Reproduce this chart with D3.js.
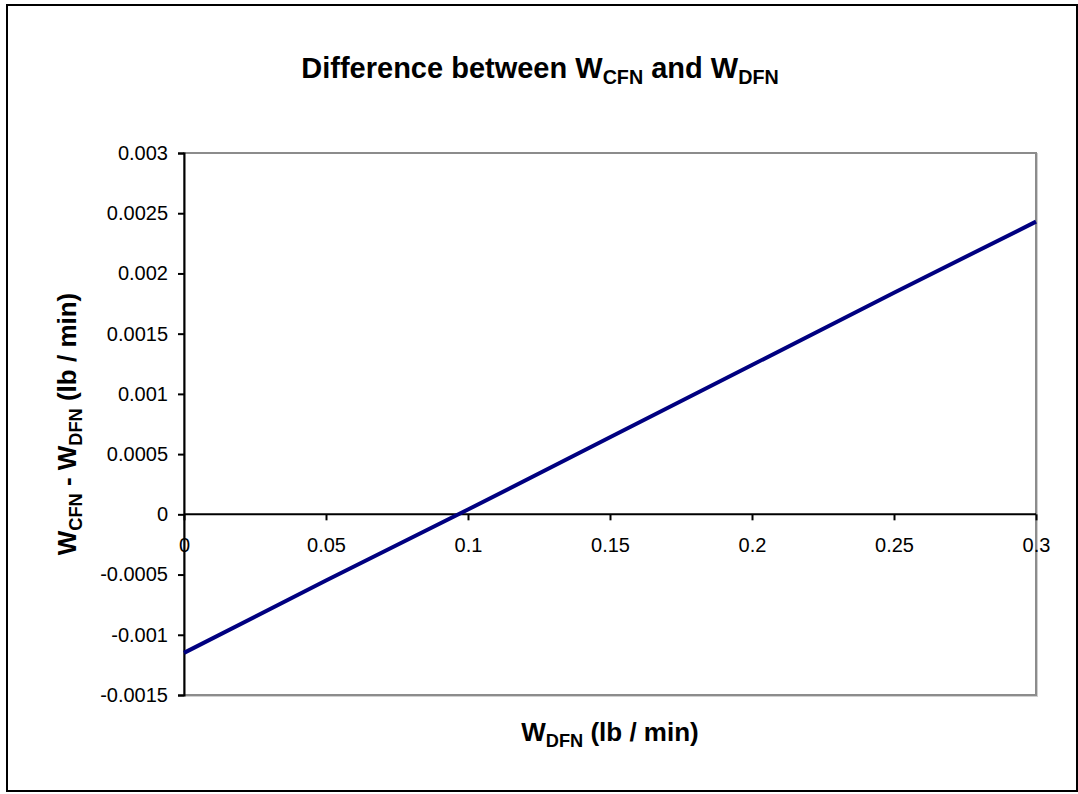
<!DOCTYPE html>
<html>
<head>
<meta charset="utf-8">
<script src="https://cdn.jsdelivr.net/npm/d3@7"></script>
<style>
  body { margin: 0; background: #fff; }
  svg { display: block; font-family: Arial, "Liberation Sans", sans-serif; }
</style>
</head>
<body>
<div id="chart"></div>
<script>
// series
var flowDFN = [0, 0.05, 0.1, 0.15, 0.2, 0.25, 0.3];
var diffValues = [-0.00115, -0.00055, 0.00004, 0.00064, 0.00124, 0.00184, 0.00243];
var xTicks = [0, 0.05, 0.1, 0.15, 0.2, 0.25, 0.3];
var yTicks = [-0.0015, -0.001, -0.0005, 0, 0.0005, 0.001, 0.0015, 0.002, 0.0025, 0.003];

var W = 1078, H = 794;
var margin = {top: 153, right: 42, bottom: 99, left: 184},
    width = W - margin.left - margin.right,
    height = H - margin.top - margin.bottom;

var svg = d3.select("#chart")
  .append("svg")
    .attr("width", W)
    .attr("height", H);

// outer chart border
svg.append("rect")
  .attr("x", 7).attr("y", 5)
  .attr("width", W - 8).attr("height", H - 8)
  .attr("fill", "none")
  .attr("stroke", "#000")
  .attr("stroke-width", 2);

var g = svg.append("g")
  .attr("transform", "translate(" + margin.left + "," + margin.top + ")");

var x = d3.scaleLinear().domain([0, 0.3]).range([0, width]);
var y = d3.scaleLinear().domain([-0.0015, 0.003]).range([height, 0]);

// plot area frame (gray with faint shadow)
g.append("rect")
  .attr("x", 1).attr("y", 1)
  .attr("width", width).attr("height", height)
  .attr("fill", "none")
  .attr("stroke", "#d0d0d0")
  .attr("stroke-width", 2);
g.append("rect")
  .attr("x", 0).attr("y", 0)
  .attr("width", width).attr("height", height)
  .attr("fill", "#fff")
  .attr("stroke", "#8c8c8c")
  .attr("stroke-width", 2);

// y axis on the left
var yAxis = g.append("g")
  .call(d3.axisLeft(y).tickValues(yTicks).tickSize(6).tickPadding(10)
    .tickFormat(function(d) { return String(+d.toFixed(4)); }));
yAxis.select(".domain").attr("stroke", "#000").attr("stroke-width", 2);
yAxis.selectAll(".tick line").attr("stroke", "#000").attr("stroke-width", 2);
yAxis.selectAll("text").attr("font-size", 20).attr("fill", "#000")
  .attr("font-family", "Arial, 'Liberation Sans', sans-serif");

// x axis crossing at zero
var xAxis = g.append("g")
  .attr("transform", "translate(0," + y(0) + ")")
  .call(d3.axisBottom(x).tickValues(xTicks).tickSize(6).tickPadding(17)
    .tickFormat(function(d) { return String(+d.toFixed(2)); }));
xAxis.select(".domain").attr("stroke", "#000").attr("stroke-width", 2)
  .attr("d", "M0,0H" + width);
xAxis.selectAll(".tick line").attr("stroke", "#000").attr("stroke-width", 2);
xAxis.selectAll("text").attr("font-size", 20).attr("fill", "#000")
  .attr("font-family", "Arial, 'Liberation Sans', sans-serif");

// the data line
var line = d3.line()
  .x(function(d, i) { return x(flowDFN[i]); })
  .y(function(d) { return y(d); });

g.append("path")
  .datum(diffValues)
  .attr("d", line)
  .attr("fill", "none")
  .attr("stroke", "#000080")
  .attr("stroke-width", 4);

// bold text with subscript pieces
function titleText(parent, xPos, yPos, size, subScale, parts, rotate) {
  var t = parent.append("text")
    .attr("text-anchor", "middle")
    .attr("font-weight", "bold")
    .attr("fill", "#000");
  if (rotate) {
    t.attr("transform", "translate(" + xPos + "," + yPos + ") rotate(-90)");
  } else {
    t.attr("x", xPos).attr("y", yPos);
  }
  var shift = 0;
  parts.forEach(function(p) {
    var ts = t.append("tspan").text(p[0]);
    if (p[1]) {
      ts.attr("font-size", size * subScale).attr("dy", size * 0.22 - shift);
      shift = size * 0.22;
    } else {
      ts.attr("font-size", size).attr("dy", -shift);
      shift = 0;
    }
  });
  return t;
}

titleText(svg, 540, 78, 29, 0.68,
  [["Difference between W"], ["CFN", true], [" and W"], ["DFN", true]]);

titleText(svg, margin.left + width / 2, 741, 26, 0.7,
  [["W"], ["DFN", true], [" (lb / min)"]]);

titleText(svg, 76, margin.top + height / 2, 26, 0.7,
  [["W"], ["CFN", true], [" - W"], ["DFN", true], [" (lb / min)"]], true);
</script>
</body>
</html>
